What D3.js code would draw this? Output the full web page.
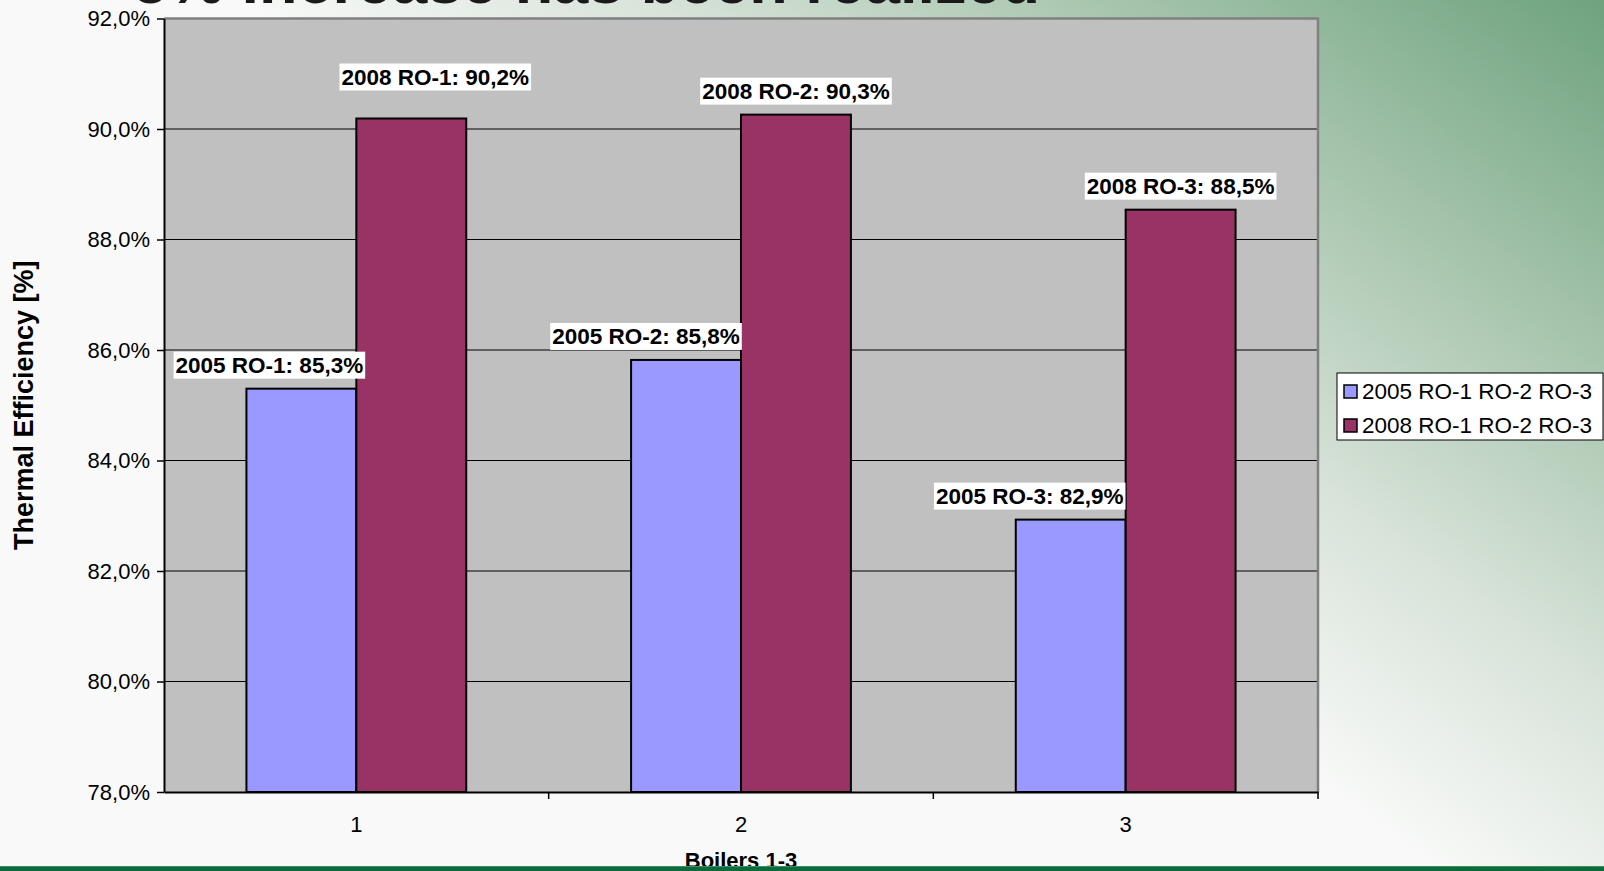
<!DOCTYPE html>
<html>
<head>
<meta charset="utf-8">
<script src="https://cdn.jsdelivr.net/npm/d3@7"></script>
<style>
  body { margin: 0; overflow: hidden; }
  svg { display: block; font-family: "Liberation Sans", Arial, sans-serif; }
</style>
</head>
<body>
<div id="chart"></div>
<script>
// chart data
var categories = ["1", "2", "3"];
var seriesNames = ["2005 RO-1 RO-2 RO-3", "2008 RO-1 RO-2 RO-3"];
var values2005 = [85.3, 85.82, 82.93];
var values2008 = [90.19, 90.26, 88.54];
var labels2005 = ["2005 RO-1", "2005 RO-2", "2005 RO-3"];
var labels2008 = ["2008 RO-1", "2008 RO-2", "2008 RO-3"];
var yTicks = [78, 80, 82, 84, 86, 88, 90, 92];

// hand-moved data labels (as in the original sheet)
var nudge2005 = [[-32, 0], [-40, 0], [-41, 0]];
var nudge2008 = [[24, -18], [0, 0], [0, 0]];

var W = 1604, H = 871;
var margin = {top: 18.5, right: 286, bottom: 79, left: 164},
    width = W - margin.left - margin.right,
    height = H - margin.top - margin.bottom;

var svg = d3.select("#chart").append("svg")
    .attr("width", W)
    .attr("height", H);

// slide background
var defs = svg.append("defs");
var grad = defs.append("linearGradient")
    .attr("id", "bg")
    .attr("gradientUnits", "userSpaceOnUse")
    .attr("x1", 1604).attr("y1", 0)
    .attr("x2", 1134).attr("y2", 648);
grad.append("stop").attr("offset", 0).attr("stop-color", "#6ea37e");
grad.append("stop").attr("offset", 0.35).attr("stop-color", "#a4c3ab");
grad.append("stop").attr("offset", 0.7).attr("stop-color", "#d8e3d9");
grad.append("stop").attr("offset", 1).attr("stop-color", "#f8f9f8");

svg.append("rect").attr("width", W).attr("height", H).attr("fill", "url(#bg)");

// slide title, mostly above the window
svg.append("text")
    .attr("x", 133).attr("y", 3)
    .attr("font-size", 63).attr("font-weight", "bold")
    .attr("fill", "#1a1a1a")
    .text("5% increase has been realized");

var g = svg.append("g")
    .attr("transform", "translate(" + margin.left + "," + margin.top + ")");

var y = d3.scaleLinear().domain([78, 92]).range([height, 0]);
var x0 = d3.scaleBand().domain(categories).range([0, width]).padding(0);
var x1 = d3.scaleBand().domain(seriesNames).range([0, x0.bandwidth()])
    .paddingInner(0).paddingOuter(0.75);
var color = d3.scaleOrdinal().domain(seriesNames).range(["#9999ff", "#993366"]);

// plot area
g.append("rect")
    .attr("width", width).attr("height", height)
    .attr("fill", "#c0c0c0");

// gridlines
g.selectAll(".grid")
  .data(yTicks.slice(1, -1))
  .enter().append("line")
    .attr("x1", 0).attr("x2", width)
    .attr("y1", function(d) { return y(d); })
    .attr("y2", function(d) { return y(d); })
    .attr("stroke", "#000").attr("stroke-width", 1);

// frame top / right in gray
g.append("path")
    .attr("d", "M0,0H" + width + "V" + height)
    .attr("fill", "none").attr("stroke", "#808080").attr("stroke-width", 2.5);

// bars
var data = categories.map(function(c, i) {
  return [
    {cat: c, s: seriesNames[0], v: values2005[i], name: labels2005[i], nd: nudge2005[i]},
    {cat: c, s: seriesNames[1], v: values2008[i], name: labels2008[i], nd: nudge2008[i]}
  ];
});
var flat = d3.merge(data);

g.selectAll(".bar")
  .data(flat)
  .enter().append("rect")
    .attr("x", function(d) { return x0(d.cat) + x1(d.s); })
    .attr("y", function(d) { return y(d.v); })
    .attr("width", x1.bandwidth())
    .attr("height", function(d) { return height - y(d.v); })
    .attr("fill", function(d) { return color(d.s); })
    .attr("stroke", "#000").attr("stroke-width", 2);

// axes
var yAxis = g.append("g")
    .call(d3.axisLeft(y).tickValues(yTicks).tickSize(7).tickSizeOuter(0)
      .tickFormat(function(d) { return d3.format(".1f")(d).replace(".", ",") + "%"; }));
yAxis.select(".domain").attr("stroke", "#000").attr("stroke-width", 2);
yAxis.selectAll(".tick line").attr("stroke", "#000").attr("stroke-width", 1.5);
yAxis.selectAll(".tick text")
    .attr("font-size", 22).attr("font-family", "Liberation Sans, Arial, sans-serif")
    .attr("fill", "#000").attr("x", -14);

var xAxis = g.append("g")
    .attr("transform", "translate(0," + height + ")")
    .call(d3.axisBottom(x0).tickSize(0));
xAxis.select(".domain").attr("stroke", "#000").attr("stroke-width", 2);
xAxis.selectAll(".tick text")
    .attr("font-size", 22).attr("font-family", "Liberation Sans, Arial, sans-serif")
    .attr("fill", "#000").attr("dy", 0).attr("y", 40);

// category boundary ticks
xAxis.selectAll(".cattick")
  .data(categories.slice(1).concat(["end"]))
  .enter().append("line")
    .attr("x1", function(d) { return d === "end" ? width : x0(d); })
    .attr("x2", function(d) { return d === "end" ? width : x0(d); })
    .attr("y1", 0).attr("y2", 7)
    .attr("stroke", "#000").attr("stroke-width", 1.5);

// data labels with white boxes
var lab = g.selectAll(".lab")
  .data(flat)
  .enter().append("g");

lab.append("rect").attr("fill", "#fff");
lab.append("text")
    .attr("text-anchor", "middle")
    .attr("font-size", 22.5).attr("font-weight", "bold").attr("fill", "#000")
    .attr("x", function(d) { return x0(d.cat) + x1(d.s) + x1.bandwidth() / 2 + d.nd[0]; })
    .attr("y", function(d) { return y(d.v) - 16 + d.nd[1]; })
    .text(function(d) { return d.name + ": " + d3.format(".1f")(d.v).replace(".", ",") + "%"; });

lab.each(function() {
  var t = d3.select(this).select("text").node().getBBox();
  d3.select(this).select("rect")
    .attr("x", t.x - 2).attr("y", t.y - 1)
    .attr("width", t.width + 4).attr("height", t.height + 2);
});

// axis titles
svg.append("text")
    .attr("transform", "translate(33," + (margin.top + height / 2) + ") rotate(-90)")
    .attr("text-anchor", "middle")
    .attr("font-size", 27).attr("font-weight", "bold").attr("fill", "#000")
    .text("Thermal Efficiency [%]");

svg.append("text")
    .attr("x", margin.left + width / 2).attr("y", 868)
    .attr("text-anchor", "middle")
    .attr("font-size", 22).attr("font-weight", "bold").attr("fill", "#000")
    .text("Boilers 1-3");

// legend
var legend = svg.append("g").attr("transform", "translate(1337,373)");
legend.append("rect")
    .attr("width", 266).attr("height", 67)
    .attr("fill", "#fff").attr("stroke", "#000").attr("stroke-width", 1);
var li = legend.selectAll(".li")
  .data(seriesNames)
  .enter().append("g")
    .attr("transform", function(d, i) { return "translate(0," + (i * 34) + ")"; });
li.append("rect")
    .attr("x", 7).attr("y", 12).attr("width", 13).attr("height", 13)
    .attr("fill", function(d) { return color(d); })
    .attr("stroke", "#000").attr("stroke-width", 1.5);
li.append("text")
    .attr("x", 25).attr("y", 26)
    .attr("font-size", 22.5).attr("fill", "#000")
    .text(function(d) { return d; });

// slide bottom band
svg.append("rect").attr("x", 0).attr("y", 866).attr("width", W).attr("height", 5).attr("fill", "#0b6b3a");
svg.append("rect").attr("x", 0).attr("y", 866).attr("width", W).attr("height", 1).attr("fill", "#3f8d60");
</script>
</body>
</html>
